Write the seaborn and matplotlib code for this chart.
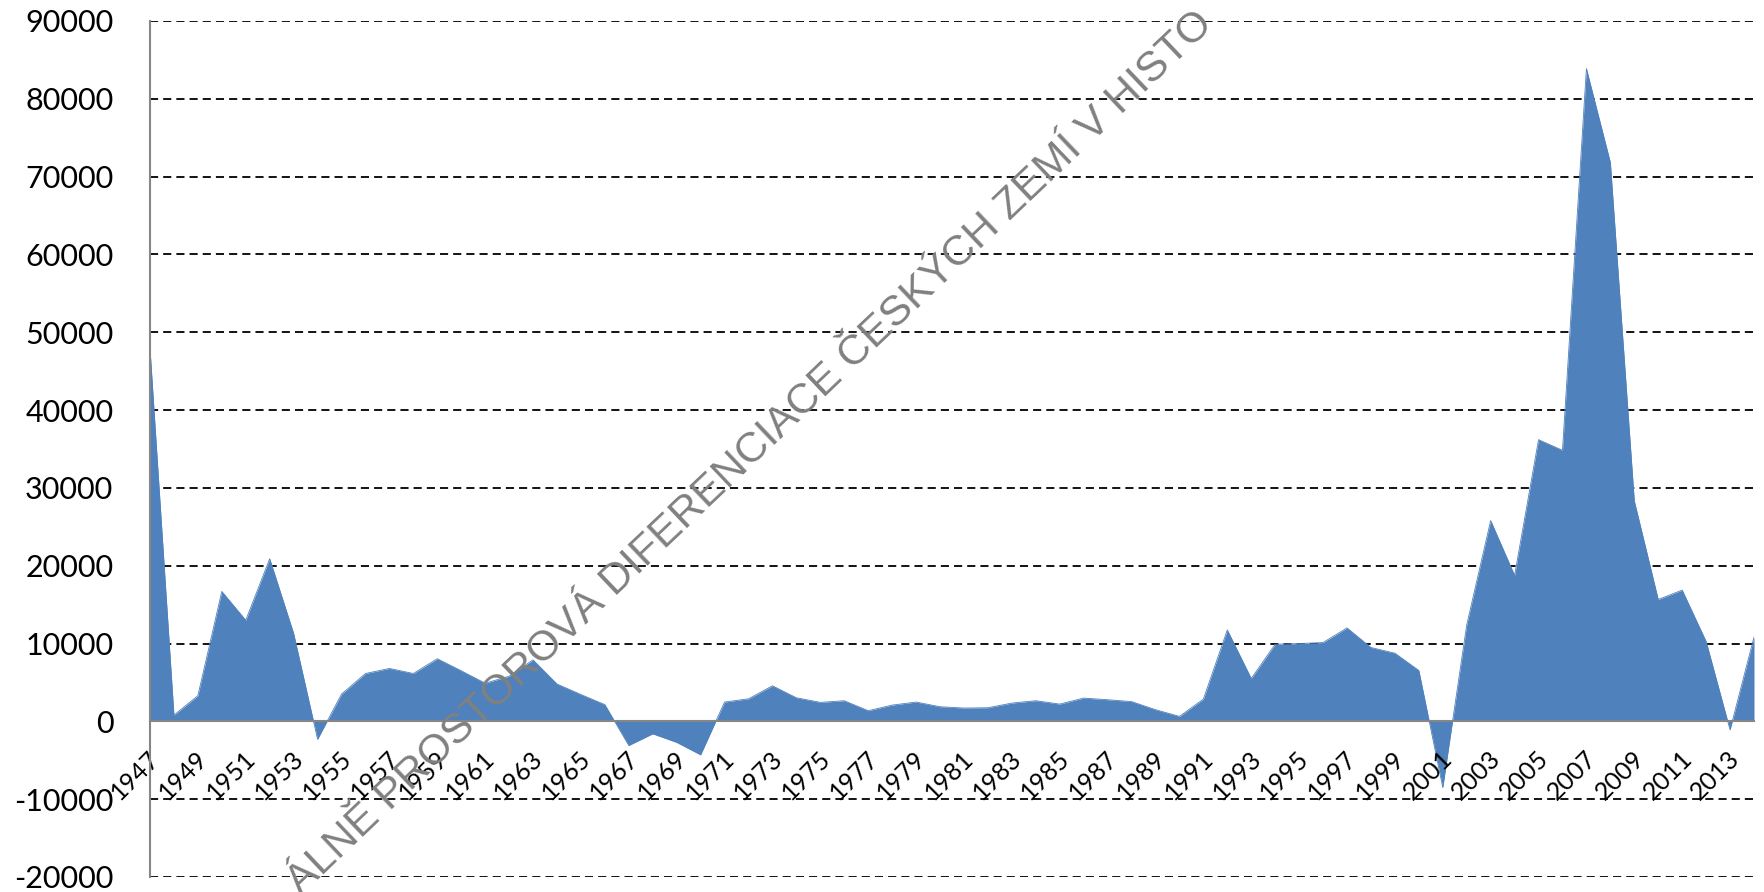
import matplotlib
matplotlib.use("Agg")
import matplotlib.pyplot as plt
import matplotlib.transforms as mtransforms
import seaborn as sns
import pandas as pd

# ---- data ----
years = list(range(1947, 2015))
values = [47900, 800, 3300, 16700, 13000, 20900, 11300, -2300, 3500, 6150,
          6800, 6150, 8050, 6500, 4900, 5800, 7900, 4800, 3450, 2150,
          -3100, -1600, -2700, -4300, 2480, 2900, 4570, 3030, 2440, 2650,
          1370, 2090, 2480, 1880, 1710, 1750, 2350, 2650, 2220, 2990,
          2780, 2540, 1500, 640, 2860, 11750, 5510, 9910, 10000, 10130,
          12010, 9490, 8760, 6540, -8500, 12390, 25800, 18760, 36200, 34830,
          83880, 71830, 28340, 15660, 16870, 10270, -1100, 10840]
y_ticks = [-20000, -10000, 0, 10000, 20000, 30000, 40000, 50000, 60000, 70000, 80000, 90000]
x_labels = [str(y) if (y - 1947) % 2 == 0 else "" for y in years]
watermark = "ÁLNĚ PROSTOROVÁ DIFERENCIACE ČESKÝCH ZEMÍ V HISTO"

sns.set_style("white")
plt.rcParams['font.family'] = ['Lato', 'DejaVu Sans']
plt.rcParams['axes.unicode_minus'] = False

W, H = 1765, 892
fig = plt.figure(figsize=(W / 100, H / 100), dpi=100)
ax = fig.add_axes([150 / W, 15 / H, (1754 - 150) / W, (877 - 21) / H])

df = pd.DataFrame({"year": years, "value": values})
blue = "#4F81BD"
ax.fill_between(df["year"], 0, df["value"], color=blue, linewidth=0, zorder=1)
sns.lineplot(data=df, x="year", y="value", ax=ax, color=blue, linewidth=0.6, zorder=1.1)

for s in ["top", "right"]:
    ax.spines[s].set_visible(False)
ax.spines["bottom"].set_position(("data", 0))
grey = "#868686"
for s in ["bottom", "left"]:
    ax.spines[s].set_color(grey)
    ax.spines[s].set_linewidth(1.5)

ax.set_xlim(1947, 2014)
ax.set_ylim(-20000, 90000)
ax.set_yticks(y_ticks)
ax.set_yticklabels([str(v) for v in y_ticks])
ax.set_xticks(years)
ax.set_xticklabels(x_labels)
ax.set_xlabel("")
ax.set_ylabel("")

ax.tick_params(axis="y", direction="out", length=9.4, width=1.5, color=grey,
               pad=17, labelsize=22, labelcolor="black")
ax.tick_params(axis="x", direction="out", length=5.8, width=1.5, color=grey,
               pad=18, labelsize=18, labelcolor="black")
ax.yaxis.grid(True, color="black", linestyle=(0, (4.5, 2.8)), linewidth=1.3)
ax.xaxis.grid(False)
ax.yaxis.set_zorder(0.5)
ax.xaxis.set_zorder(1.5)

offset = mtransforms.ScaledTranslation(0.06, 0, fig.dpi_scale_trans)
for lab in ax.get_xticklabels():
    lab.set_rotation(45)
    lab.set_rotation_mode("anchor")
    lab.set_ha("right")
    lab.set_va("center")
    lab.set_transform(lab.get_transform() + offset)

fig.text(301 / W, -4 / H, watermark, rotation=43.6, rotation_mode="anchor",
         ha="left", va="baseline", fontsize=30.6, color="#808080",
         family=["Liberation Sans", "DejaVu Sans"], zorder=10)

fig.savefig("out.png", dpi=100)
